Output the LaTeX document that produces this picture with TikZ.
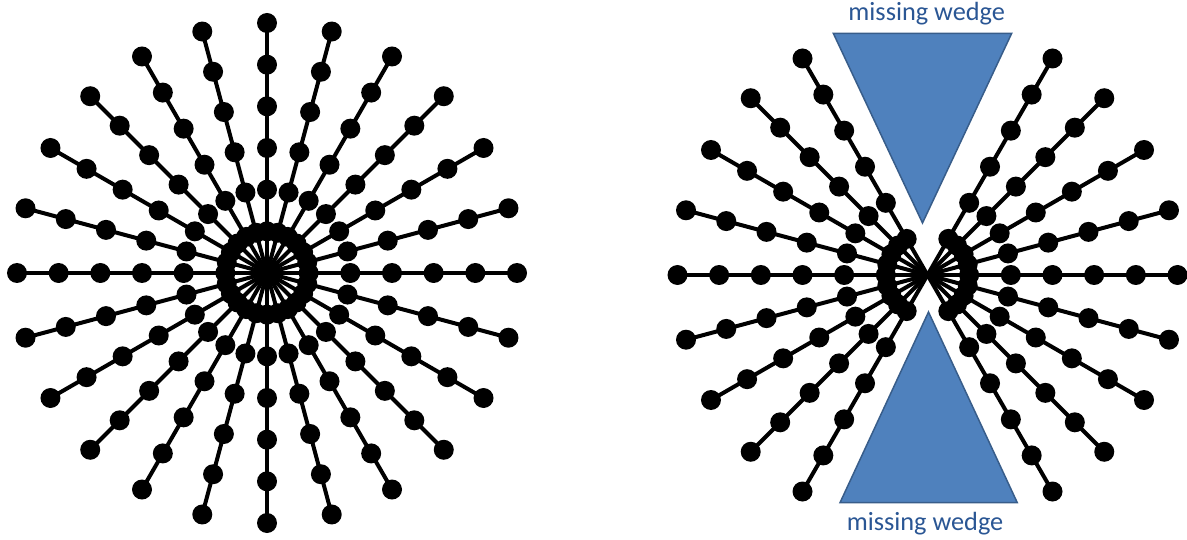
\documentclass[tikz,border=0pt]{standalone}
\usepackage{fontspec}
\setmainfont{Carlito}
\usetikzlibrary{calc}
\definecolor{wedgefill}{HTML}{4F81BD}
\definecolor{wedgeline}{HTML}{385D8A}
\definecolor{labelblue}{HTML}{2A5694}
\begin{document}
\begin{tikzpicture}[x=1pt,y=-1pt,
  spoke/.style={line width=4pt,black},
  dotmark/.style={circle,fill=black,inner sep=0pt,minimum size=20pt},
  wedge/.style={fill=wedgefill,draw=wedgeline,line width=1.5pt,line join=miter},
  lbl/.style={text=labelblue,font=\fontsize{26.3}{30}\selectfont,inner sep=0pt,anchor=base}]
\useasboundingbox (0,0) rectangle (1187,540);
% left: full tilt series
\coordinate (L) at (267,273);
\foreach \a in {0,15,...,345} {
  \foreach \k in {1,...,6}
    \node[dotmark] (l-\a-\k) at ($(L)+(\a:\k*41.667)$) {};
  \draw[spoke] (L) -- (l-\a-6.center);
}
% right: limited tilt series
\coordinate (R) at (927.5,275);
\foreach \a in {-60,-45,...,60,120,135,...,240} {
  \foreach \k in {1,...,6}
    \node[dotmark] (r-\a-\k) at ($(R)+(\a:\k*41.667)$) {};
  \draw[spoke] (R) -- (r-\a-6.center);
}
% missing wedges
\draw[wedge] (833.3,33.3) -- (1011.7,33.3) -- (922.5,223) -- cycle;
\draw[wedge] (840,502.7) -- (1017.3,502.7) -- (928.5,312) -- cycle;
\node[lbl] (toplabel) at (926.7,21) {missing wedge};
\node[lbl] (botlabel) at (925,530) {missing wedge};
\end{tikzpicture}
\end{document}
